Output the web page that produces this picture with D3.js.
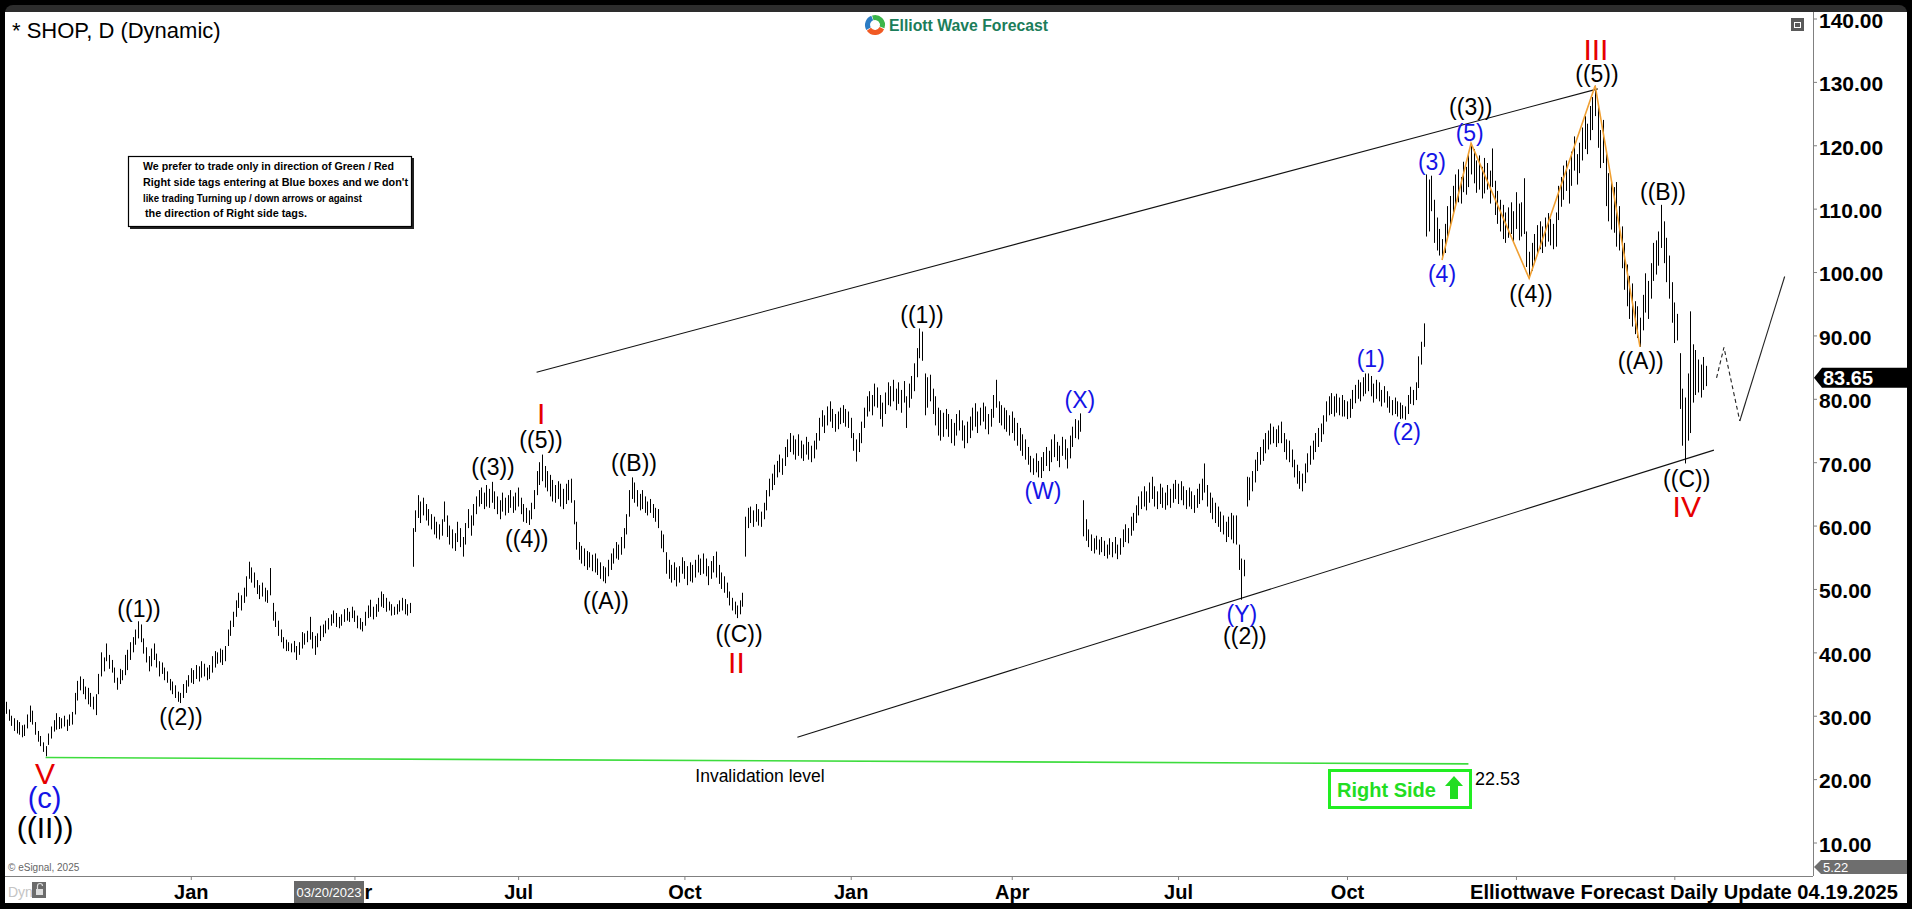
<!DOCTYPE html>
<html><head><meta charset="utf-8">
<script src="https://cdn.jsdelivr.net/npm/d3@7"></script>
<style>
html,body{margin:0;padding:0;background:#000;overflow:hidden}
svg{display:block;font-family:"Liberation Sans",Arial,sans-serif}
</style></head>
<body>
<svg id="c" width="1912" height="909"></svg>
<script>
// ---------------- DATA (daily high / low, trading-day index) ----------------
const title = "* SHOP, D (Dynamic)";
const lastClose = 83.65;
const axisLow = "5.22";
const priceTicks = [10,20,30,40,50,60,70,80,90,100,110,120,130,140];
const dateTickIdx = [70,132,194,257,320,381,444,508,572,632];
const dateTickLabels = ["Jan","Apr","Jul","Oct","Jan","Apr","Jul","Oct","Jan","Apr"];

// 2022-09-22 .. 2022-12-30  (index 0..69)
const bars2022 = [
[32.2,30.3],[31.0,29.2],[30.0,28.4],[29.6,27.6],[29.3,27.2],[29.0,27.0],[28.5,26.6],[28.6,26.8],[30.2,28.0],[31.6,29.0],
[30.8,28.6],[29.0,27.0],[27.6,25.9],[26.8,25.2],[25.8,24.3],[25.2,23.6],[27.2,25.4],[28.3,26.4],[29.3,27.5],[30.4,27.8],
[29.8,27.9],[29.6,28.0],[30.0,28.3],[29.4,27.6],[30.2,28.4],[30.6,28.6],[33.6,30.2],[35.5,32.4],[36.2,34.0],[35.8,33.4],
[34.6,32.6],[34.4,31.8],[33.6,31.4],[33.0,31.0],[33.4,30.1],[36.6,33.4],[40.0,36.2],[39.2,37.0],[41.4,38.6],[39.6,37.4],
[38.8,36.8],[37.6,35.2],[36.0,34.1],[37.4,35.0],[37.2,35.6],[39.6,36.4],[40.4,37.2],[41.6,38.8],[42.4,40.0],[43.6,41.2],
[44.9,42.2],[44.4,41.6],[42.2,39.8],[40.8,38.4],[39.4,37.0],[40.6,37.8],[41.4,38.8],[39.8,37.6],[38.6,36.2],[38.4,36.6],
[37.6,35.6],[37.0,35.2],[35.8,34.0],[35.4,33.4],[34.8,32.8],[33.8,32.2],[33.6,32.0],[35.0,32.8],[35.6,33.6],[36.4,34.6]
];
// 2023 (index 70..319)
const bars2023 = [
[37.5,35.2],[37.2,35.0],[38.0,35.8],[37.8,35.4],[38.6,36.0],[38.2,36.2],[37.6,35.6],[38.0,35.8],[39.4,36.8],[40.2,37.6],
[40.0,38.2],[40.6,38.4],[40.4,38.0],[41.0,38.6],[43.6,41.0],[45.0,42.6],[46.4,44.0],[48.2,45.6],[49.4,47.0],[49.0,46.6],
[50.2,47.8],[52.0,48.8],[54.3,51.6],[53.4,51.0],[52.6,50.2],[51.4,49.2],[50.6,48.4],[51.0,48.8],[50.2,48.0],[49.8,47.8],
[53.3,49.0],[47.8,45.0],[46.4,44.0],[45.0,42.6],[43.6,41.6],[42.4,40.6],[42.0,40.2],[41.6,40.2],[41.4,40.0],[41.8,40.0],
[41.0,38.8],[41.6,39.6],[43.2,40.6],[43.0,41.2],[43.4,41.6],[45.6,42.0],[43.2,40.6],[42.6,39.6],[43.0,40.8],[44.2,41.8],
[44.4,42.4],[45.0,43.0],[45.4,43.6],[46.0,44.2],[46.6,44.6],[46.2,44.0],[45.6,43.8],[46.0,44.2],[46.8,44.8],[47.0,45.0],
[46.4,44.8],[47.2,45.4],[46.6,44.8],[45.8,43.8],[45.4,43.6],[44.8,43.3],[46.4,44.2],[47.4,45.4],[48.3,45.6],[47.2,45.2],
[47.6,45.6],[48.6,46.4],[49.6,47.2],[49.2,47.0],[48.6,46.4],[48.0,46.6],[47.6,45.8],[47.2,45.9],[47.6,46.0],[48.2,46.4],
[48.6,46.6],[48.4,46.0],[47.6,45.8],[47.8,46.2],[59.6,53.5],[62.4,59.0],[64.8,61.2],[63.8,60.4],[64.4,61.6],[63.4,60.8],
[62.6,60.0],[61.8,59.4],[61.4,58.6],[60.6,58.0],[60.2,57.8],[61.0,58.4],[63.8,60.6],[61.6,58.2],[60.0,57.0],[59.4,56.4],
[58.8,56.0],[60.6,57.4],[59.6,56.6],[58.2,55.1],[60.4,57.0],[62.6,59.6],[61.6,58.4],[63.4,60.0],[64.6,61.8],[65.6,63.0],
[66.0,63.4],[65.2,62.6],[66.4,63.0],[65.8,62.8],[66.9,63.6],[65.4,62.6],[64.6,61.8],[64.0,61.0],[65.2,62.2],[64.4,61.6],
[64.8,62.0],[65.6,62.8],[64.6,62.0],[65.2,62.4],[66.0,63.0],[64.4,61.8],[63.4,60.6],[62.8,60.4],[62.4,60.1],[63.6,61.0],
[65.6,62.6],[68.6,64.8],[70.0,66.4],[71.2,67.0],[69.4,66.0],[68.6,65.4],[68.0,64.6],[67.2,63.8],[66.4,63.6],[67.0,64.2],
[66.6,63.0],[65.8,62.6],[66.6,63.4],[67.2,64.0],[67.4,63.6],[64.0,60.2],[60.6,56.2],[57.4,54.6],[56.8,54.0],[56.4,53.6],
[56.0,53.0],[55.8,53.4],[55.4,52.8],[55.6,52.6],[54.8,52.2],[54.2,51.6],[53.6,51.2],[53.4,50.9],[54.6,52.0],[55.6,53.0],
[56.4,54.0],[57.4,54.8],[57.0,54.6],[58.2,55.4],[59.6,56.4],[61.8,58.6],[65.6,61.4],[67.6,64.2],[66.8,63.6],[65.6,63.0],
[65.0,62.4],[65.6,62.6],[64.6,62.0],[63.8,61.6],[64.2,62.0],[63.4,61.2],[62.8,60.6],[62.6,59.6],[59.2,56.4],[58.6,55.8],
[55.8,52.4],[54.6,51.6],[53.8,51.0],[54.2,51.4],[53.4,50.4],[53.6,51.0],[55.0,52.4],[54.4,51.6],[53.6,50.6],[54.2,51.2],
[53.8,51.0],[54.6,51.8],[55.4,52.6],[54.8,52.2],[55.6,52.4],[54.8,52.0],[53.6,50.6],[54.4,51.6],[55.2,52.6],[55.9,51.8],
[53.8,50.8],[52.6,50.0],[52.0,49.4],[51.0,48.6],[49.6,47.4],[48.6,46.6],[48.0,46.0],[47.4,45.4],[48.2,46.0],[49.4,47.2],
[61.4,55.1],[62.8,59.6],[63.0,60.4],[62.4,59.8],[63.4,60.6],[62.6,60.0],[62.2,59.8],[63.6,61.0],[65.6,62.4],[67.4,64.6],
[68.2,65.6],[69.6,66.4],[70.2,67.6],[71.2,68.4],[70.6,68.0],[72.4,69.4],[73.6,70.8],[74.6,71.6],[74.2,71.2],[73.6,70.4],
[74.4,71.0],[73.4,70.6],[72.8,70.2],[74.0,71.2],[73.2,70.4],[72.6,70.0],[73.4,70.6],[74.6,72.0],[77.0,73.4],[78.2,75.6],
[77.4,74.6],[78.8,75.8],[79.6,76.4],[78.4,75.4],[77.6,74.8],[78.0,75.2],[78.6,76.0],[79.0,76.2],[78.4,75.6],[78.0,75.4]
];
// 2024 (index 320..571)
const bars2024 = [
[77.0,73.8],[74.6,71.8],[73.6,70.1],[74.6,71.6],[76.4,73.0],[78.6,75.4],[80.4,77.2],[81.2,78.0],[80.6,77.4],[82.4,78.8],
[81.8,78.6],[80.6,76.8],[79.4,75.6],[81.0,77.6],[82.6,79.0],[82.0,78.8],[83.0,79.6],[81.6,78.2],[82.6,79.2],[81.4,77.8],
[82.8,79.4],[80.4,75.4],[82.4,78.6],[83.6,80.0],[85.6,81.2],[88.0,83.4],[91.1,86.4],[90.6,86.0],[84.0,77.4],[83.4,78.6],
[83.8,79.6],[81.6,77.6],[80.4,75.8],[78.6,74.2],[78.2,73.4],[77.8,74.0],[78.4,75.2],[77.6,74.0],[76.8,73.0],[76.2,72.6],
[77.6,74.2],[78.2,75.0],[76.6,73.4],[75.8,72.2],[76.4,73.0],[77.2,73.8],[78.6,75.0],[79.3,75.6],[78.0,74.6],[78.6,75.8],
[79.4,76.4],[78.8,75.2],[77.6,74.4],[78.4,75.6],[80.6,77.0],[83.0,78.6],[79.6,76.2],[79.0,75.8],[78.6,75.2],[78.2,74.8],
[77.4,74.2],[78.0,74.6],[77.0,73.4],[76.2,72.6],[75.4,71.8],[74.4,71.0],[73.6,70.4],[72.4,69.6],[71.0,68.4],[70.6,68.0],
[71.4,68.4],[70.2,67.6],[70.8,67.5],[71.6,68.6],[72.4,69.4],[71.8,68.6],[73.6,70.0],[74.4,70.8],[73.2,70.2],[72.6,69.2],
[74.0,71.0],[73.6,70.4],[72.2,69.0],[74.2,70.6],[75.6,72.4],[76.8,73.8],[76.6,73.6],[77.7,74.8],[64.0,58.3],[61.0,57.6],
[59.4,56.6],[58.6,56.0],[58.0,55.6],[58.4,56.2],[57.8,55.4],[58.2,55.8],[57.6,55.2],[57.0,54.8],[58.0,55.4],[57.4,55.0],
[58.2,55.6],[57.0,54.7],[58.0,55.4],[59.4,56.6],[60.2,57.4],[59.6,57.2],[61.4,58.4],[62.0,59.2],[63.2,60.4],[64.6,61.6],
[65.4,62.6],[66.2,63.0],[65.4,62.4],[66.8,63.6],[67.7,64.2],[66.2,63.0],[65.4,62.6],[66.6,63.4],[66.0,62.8],[65.2,62.5],
[66.4,63.2],[65.8,62.8],[66.6,63.6],[67.2,64.2],[66.6,63.4],[67.0,64.0],[66.2,63.2],[65.6,62.6],[66.0,63.0],[65.4,62.6],
[64.8,62.0],[65.8,62.8],[66.6,63.4],[67.4,64.0],[69.8,65.2],[66.4,63.0],[65.2,62.0],[64.4,61.0],[63.6,60.4],[63.0,59.8],
[62.2,59.0],[61.6,58.6],[60.6,57.4],[61.4,58.2],[62.0,57.8],[61.6,57.2],[61.6,57.0],[57.0,53.0],[54.8,48.3],[54.6,52.0],
[67.7,63.0],[67.6,64.0],[68.6,65.4],[70.4,66.8],[71.6,68.6],[72.4,69.6],[73.6,70.2],[74.6,71.4],[75.0,72.0],[76.1,72.8],
[75.6,73.0],[75.2,72.4],[75.8,73.0],[76.4,73.0],[74.6,71.6],[73.6,70.4],[73.4,70.0],[72.0,69.2],[70.4,67.6],[69.6,66.6],
[68.6,65.8],[68.2,65.4],[69.8,66.7],[71.4,68.4],[72.6,69.6],[73.4,70.4],[74.6,71.6],[75.4,72.4],[76.1,73.2],[77.4,74.4],
[79.6,76.4],[80.4,77.4],[80.9,77.6],[80.4,77.2],[80.8,77.8],[80.2,77.4],[80.6,77.2],[79.8,77.2],[79.6,76.8],[80.0,77.0],
[81.4,78.4],[82.2,79.3],[83.0,80.0],[82.6,79.6],[83.4,80.4],[84.0,80.8],[84.0,81.2],[83.6,80.4],[82.4,79.4],[83.0,80.0],
[82.6,79.6],[81.4,78.8],[82.0,79.4],[81.2,78.6],[80.4,77.8],[79.8,77.4],[80.2,77.6],[79.6,77.2],[79.4,76.8],[79.0,76.9],
[78.8,76.7],[80.6,77.6],[81.9,79.2],[81.4,79.0],[82.6,79.8],[86.7,81.7],[89.0,85.4],[91.9,88.2],[115.4,105.6],[114.6,106.4],
[115.2,109.6],[111.4,104.6],[108.6,103.4],[106.8,102.6],[105.2,101.9],[107.6,103.0],[110.4,105.2],[112.0,107.4],[113.6,109.0],[115.4,110.6],
[116.2,111.0],[115.0,110.8],[117.4,112.6],[116.6,112.2],[118.6,113.4],[120.3,115.4],[119.4,114.0],[117.6,112.5],[118.4,113.0],[116.6,111.6],
[118.0,112.4],[117.2,113.0],[116.0,110.8],[119.5,113.4],[114.4,109.0],[112.8,107.6],[111.4,106.4],[110.6,105.2],[109.4,104.6],[110.2,105.4],
[111.0,106.0],[109.6,104.6]
];
// 2025-01-02 .. 2025-04-17 (index 572..644)
const bars2025 = [
[112.6,106.8],[110.8,105.0],[111.0,105.6],[114.8,106.0],[106.4,100.8],[103.2,99.0],[104.6,100.2],[106.0,101.4],[107.4,102.8],[108.0,103.6],
[107.2,103.0],[108.6,104.0],[109.3,104.8],[108.4,104.2],[107.6,103.6],[109.4,104.0],[113.6,108.2],[115.0,110.3],[116.8,111.4],[117.6,112.8],
[116.2,110.8],[119.0,113.6],[121.4,116.0],[118.6,113.8],[120.4,115.6],[122.8,117.6],[124.6,119.4],[123.4,118.6],[126.2,120.8],[127.6,122.4],
[129.4,124.6],[126.0,119.6],[122.4,116.4],[124.0,117.2],[118.6,110.4],[115.6,108.0],[114.6,106.7],[113.4,106.2],[114.2,104.0],[110.4,103.4],
[107.2,100.6],[104.6,97.2],[101.2,94.6],[99.4,92.6],[98.2,91.4],[95.4,90.2],[94.6,89.6],[92.8,88.2],[96.4,90.8],[99.8,93.6],
[98.6,92.6],[101.4,95.8],[104.6,98.6],[105.0,99.6],[106.4,101.0],[110.6,103.8],[108.0,101.4],[105.4,98.4],[102.6,95.8],[98.4,92.0],
[95.2,88.8],[93.4,89.2],[87.2,78.4],[81.6,72.6],[80.2,69.8],[84.0,73.4],[93.8,74.6],[88.6,79.4],[87.7,80.6],[86.2,81.0],
[85.4,80.2],[86.6,81.4],[85.2,82.0]
];
const yearStart = [0,70,320,572];

// Elliott wave labels: text, bar index, price, degree
const waveText   = ["((II))","(c)","V","((1))","((2))","((3))","((4))","((5))","I","((A))","((B))","((C))","II",
                    "((1))","(W)","(X)","(Y)","((2))","(1)","(2)","(3)","(4)","(5)","((3))","((4))","((5))","III","((A))","((B))","((C))","IV"];
const waveIdx    = [14.8,14.6,14.8,50.4,66.3,184.5,197.3,202.7,202.7,227.3,237.9,277.7,276.7,
                    347.0,392.8,406.8,468.2,469.3,517.0,530.7,540.2,544.0,554.5,554.9,577.7,602.7,602.3,619.3,627.7,636.7,636.7];
const wavePrice  = [12.0,16.7,21.0,46.5,29.5,68.9,57.6,73.2,77.8,47.8,69.6,42.6,38.5,
                    92.9,65.2,79.5,45.7,42.3,86.0,74.5,117.1,99.4,121.7,125.8,96.2,131.0,135.1,85.7,112.3,67.0,63.1];
const waveDegree = ["supercycle","minuteBig","cycle","primary","primary","primary","primary","primary","cycle","primary","primary","primary","cycle",
                    "primary","intermediate","intermediate","intermediate","primary","intermediate","intermediate","intermediate","intermediate","intermediate","primary","primary","primary","cycle","primary","primary","primary","cycle"];

// annotation lines (bar index, price)
const upperChannel = [[201,84.2],[603,128.9]];
const lowerChannel = [[299.8,26.6],[647,71.9]];
const invalidation = [[15,23.4],[554,22.4]];
const invalidationValue = "22.53";
const orangePath = [[544,101.9],[555,120.3],[577,99.0],[602,129.4],[619,88.2]];
const projDashed = [[648,83.3],[650.8,88.1],[656.8,76.5]];
const projSolid  = [[656.8,76.5],[673.8,99.3]];

const disclaimer = ["We prefer to trade only in direction of Green / Red",
                    "Right side tags entering at Blue boxes and we don't",
                    "like trading Turning up / down arrows or against",
                    "the direction of Right side tags."];

// ---------------- DRAW ----------------
const svg = d3.select("#c");
const W = 1912, H = 909;
const plotL = 5, plotR = 1813, plotT = 12, plotB = 876;
const footerX = 1466;

const bars = [];
[bars2022,bars2023,bars2024,bars2025].forEach((arr,k)=>arr.forEach((b,j)=>bars.push({i:yearStart[k]+j,h:b[0],l:b[1]})));

const x = d3.scaleLinear().domain([0,644]).range([6,1706]);
const y = d3.scaleLinear().domain([10,140]).range([842.5,18.5]);

// frame
svg.append("rect").attr("width",W).attr("height",H).attr("fill","#000");
svg.append("rect").attr("x",5).attr("y",5).attr("width",1902).attr("height",40).attr("rx",8).attr("fill","#2d2d2d");
svg.append("rect").attr("x",5).attr("y",12).attr("width",1902).attr("height",891).attr("fill","#fff");

const defs = svg.append("defs");
defs.append("clipPath").attr("id","plotclip").append("rect")
  .attr("x",plotL).attr("y",plotT).attr("width",plotR-plotL).attr("height",plotB-plotT);

const plot = svg.append("g").attr("clip-path","url(#plotclip)");
const line = d3.line().x(d=>x(d[0])).y(d=>y(d[1]));

plot.append("path").attr("d",line(invalidation)).attr("fill","none").attr("stroke","#3ddc3d").attr("stroke-width",1.6);
plot.append("path").attr("d",line(upperChannel)).attr("fill","none").attr("stroke","#111").attr("stroke-width",1.1);
plot.append("path").attr("d",line(lowerChannel)).attr("fill","none").attr("stroke","#111").attr("stroke-width",1.1);

plot.append("g").selectAll("line").data(bars).join("line")
  .attr("x1",d=>Math.round(x(d.i))+0.5).attr("x2",d=>Math.round(x(d.i))+0.5)
  .attr("y1",d=>y(d.h)).attr("y2",d=>y(d.l))
  .attr("stroke","#000").attr("stroke-width",1);

plot.append("path").attr("d",line(orangePath)).attr("fill","none").attr("stroke","#f0a033").attr("stroke-width",1.6);
plot.append("path").attr("d",line(projDashed)).attr("fill","none").attr("stroke","#222").attr("stroke-width",1.1).attr("stroke-dasharray","4,3");
plot.append("path").attr("d",line(projSolid)).attr("fill","none").attr("stroke","#222").attr("stroke-width",1.1);

const degStyle = {
  supercycle:{c:"#000",fs:30,dy:0.27},
  minuteBig:{c:"#1414e6",fs:29,dy:0.27},
  cycle:{c:"#e60000",fs:30,dy:0.36},
  primary:{c:"#000",fs:23,dy:0.27},
  intermediate:{c:"#1414e6",fs:23,dy:0.27}
};
const labels = waveText.map((t,k)=>({t,i:waveIdx[k],p:wavePrice[k],s:degStyle[waveDegree[k]]}));
plot.append("g").selectAll("text").data(labels).join("text")
  .attr("x",d=>x(d.i)).attr("y",d=>y(d.p)+d.s.dy*d.s.fs)
  .attr("text-anchor","middle").attr("font-size",d=>d.s.fs).attr("fill",d=>d.s.c)
  .text(d=>d.t);

svg.append("text").attr("x",760).attr("y",782).attr("text-anchor","middle").attr("font-size",17.5).attr("fill","#000").text("Invalidation level");
svg.append("text").attr("x",1475).attr("y",785).attr("font-size",18).attr("fill","#000").text(invalidationValue);

const rs = svg.append("g");
rs.append("rect").attr("x",1329.5).attr("y",770.5).attr("width",141).attr("height",37).attr("fill","#fff").attr("stroke","#22ee22").attr("stroke-width",3);
rs.append("text").attr("x",1337).attr("y",797).attr("font-size",20).attr("font-weight","bold").attr("fill","#22dd22").text("Right Side");
rs.append("path").attr("d","M1454,776 L1463,786 L1458,786 L1458,799 L1450,799 L1450,786 L1445,786 Z").attr("fill","#22dd22");

// disclaimer box
svg.append("rect").attr("x",130).attr("y",158).attr("width",284).attr("height",71).attr("fill","#222");
svg.append("rect").attr("x",128.5).attr("y",156.5).attr("width",283).attr("height",70).attr("fill","#fff").attr("stroke","#000").attr("stroke-width",1.2);
const dw = [251,265,219,162];
svg.append("g").selectAll("text").data(disclaimer).join("text")
  .attr("x",(d,k)=>k===3?145:143).attr("y",(d,k)=>170+k*15.8)
  .attr("font-size",11.5).attr("font-weight","bold").attr("fill","#000")
  .attr("textLength",(d,k)=>dw[k]).attr("lengthAdjust","spacingAndGlyphs").text(d=>d);

svg.append("text").attr("x",12).attr("y",38).attr("font-size",22).attr("fill","#000").text(title);

const lg = svg.append("g");
const arc = d3.arc().innerRadius(5).outerRadius(10);
[["#3cb54a",-0.3,1.9],["#f15a24",2.0,4.1],["#2b7cc4",4.2,5.9]].forEach(a=>{
  lg.append("path").attr("transform","translate(875,25)").attr("d",arc({startAngle:a[1],endAngle:a[2]})).attr("fill",a[0]);
});
lg.append("text").attr("x",889).attr("y",31).attr("font-size",16).attr("font-weight","bold").attr("fill","#1b7d5a")
  .attr("textLength",159).attr("lengthAdjust","spacingAndGlyphs").text("Elliott Wave Forecast");

svg.append("rect").attr("x",1791).attr("y",18).attr("width",13).attr("height",13).attr("fill","#5a5a5a");
svg.append("rect").attr("x",1794.5).attr("y",22.5).attr("width",6).attr("height",5).attr("fill","none").attr("stroke","#fff").attr("stroke-width",1);

// right axis
const ay = svg.append("g").attr("transform",`translate(${plotR},0)`)
  .call(d3.axisRight(y).tickValues(priceTicks).tickFormat(d3.format(".2f")).tickSize(4).tickPadding(2));
ay.select(".domain").remove();
ay.selectAll("line").attr("stroke","#808080");
ay.selectAll("text").attr("font-size",21).attr("font-weight","bold").attr("fill","#000").attr("dy","0.42em")
  .attr("font-family","Liberation Sans, Arial, sans-serif");
svg.append("line").attr("x1",plotR+0.5).attr("x2",plotR+0.5).attr("y1",plotT).attr("y2",plotB).attr("stroke","#808080");

const yc = y(lastClose)+2;
svg.append("path").attr("d",`M${plotR+1},${yc} L${plotR+9},${yc-10} L1907,${yc-10} L1907,${yc+10} L${plotR+9},${yc+10} Z`).attr("fill","#000");
svg.append("text").attr("x",1823).attr("y",yc+7).attr("font-size",20).attr("font-weight","bold").attr("fill","#fff").text(lastClose.toFixed(2));

svg.append("path").attr("d",`M${plotR+1},867 L${plotR+8},860 L1907,860 L1907,874 L${plotR+8},874 Z`).attr("fill","#6e6e6e");
svg.append("text").attr("x",1823).attr("y",872).attr("font-size",13).attr("fill","#fff").text(axisLow);

// bottom axis (labels under the footer banner are hidden, as in the reference)
svg.append("line").attr("x1",plotL).attr("x2",plotR).attr("y1",plotB+0.5).attr("y2",plotB+0.5).attr("stroke","#808080");
const ax = svg.append("g").attr("transform",`translate(0,${plotB})`)
  .call(d3.axisBottom(x).tickValues(dateTickIdx)
    .tickFormat((d,k)=> x(d) > footerX ? "" : dateTickLabels[k]).tickSize(4).tickPadding(5));
ax.select(".domain").remove();
ax.selectAll("line").attr("stroke","#808080");
ax.selectAll("text").attr("font-size",20).attr("font-weight","bold").attr("fill","#000").attr("font-family","Liberation Sans, Arial, sans-serif");

svg.append("text").attr("x",1470).attr("y",899).attr("font-size",20).attr("font-weight","bold").attr("fill","#000")
  .attr("textLength",428).attr("lengthAdjust","spacingAndGlyphs").text("Elliottwave Forecast Daily Update 04.19.2025");

svg.append("rect").attr("x",294).attr("y",881).attr("width",70).attr("height",22).attr("fill","#686868");
svg.append("text").attr("x",329).attr("y",897).attr("text-anchor","middle").attr("font-size",13).attr("fill","#fff").text("03/20/2023");

svg.append("text").attr("x",8).attr("y",871).attr("font-size",10).attr("fill","#666").text("© eSignal, 2025");
svg.append("text").attr("x",8).attr("y",897).attr("font-size",14).attr("fill","#c4c4c4").text("Dyn");
svg.append("rect").attr("x",32).attr("y",882).attr("width",14).attr("height",16).attr("fill","#6b6b6b");
svg.append("rect").attr("x",36).attr("y",889).attr("width",7).attr("height",6).attr("fill","#ddd");
svg.append("path").attr("d","M37.5,889 V886 a2.5,2.5 0 0 1 5,0").attr("fill","none").attr("stroke","#ddd").attr("stroke-width",1.2);
</script>
</body></html>
